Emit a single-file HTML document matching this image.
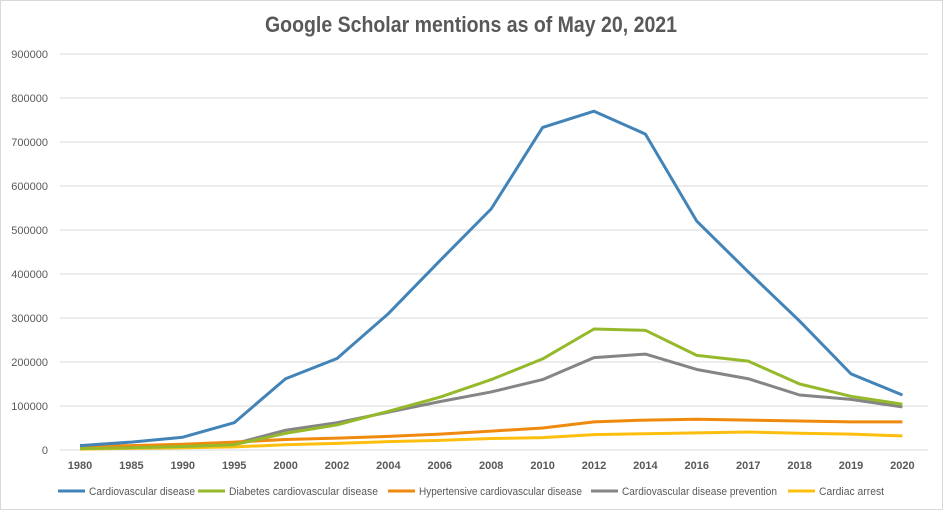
<!DOCTYPE html>
<html><head><meta charset="utf-8"><style>
body{margin:0;background:#fff}
svg{display:block;font-family:"Liberation Sans Narrow","Liberation Sans",sans-serif}
</style></head><body>
<svg id="c" width="943" height="510" xmlns="http://www.w3.org/2000/svg">
<rect x="0.5" y="0.5" width="942" height="509" fill="#fff" stroke="#d9d9d9"/>
<text x="471" y="32" text-anchor="middle" font-size="22" font-weight="bold" fill="#595959" textLength="412" lengthAdjust="spacingAndGlyphs">Google Scholar mentions as of May 20, 2021</text>
<g id="grid"></g><g id="lines"></g><g id="leg"></g>
</svg>
<script>
const ns="http://www.w3.org/2000/svg";
function el(t,a,txt){const e=document.createElementNS(ns,t);for(const k in a)e.setAttribute(k,a[k]);if(txt!=null)e.textContent=txt;return e;}
const g=document.getElementById('grid');
const Y=v=>450-v*396/900000;
for(let i=0;i<=9;i++){const y=Y(i*100000);
g.appendChild(el('line',{x1:60,x2:928,y1:y,y2:y,stroke:'#d9d9d9','stroke-width':1}));
g.appendChild(el('text',{x:48,y:y+4,'text-anchor':'end','font-size':11,fill:'#595959'},String(i*100000)));}
const yrs=[1980,1985,1990,1995,2000,2002,2004,2006,2008,2010,2012,2014,2016,2017,2018,2019,2020];
const X=i=>80+i*51.4;
yrs.forEach((yr,i)=>g.appendChild(el('text',{x:X(i),y:469,'text-anchor':'middle','font-size':11,'font-weight':'bold',fill:'#595959'},yr)));
const S=[
['Cardiovascular disease','#4283b8',[10,18,29,62,162,208,310,430,548,733,770,718,520,405,293,173,125]],
['Diabetes cardiovascular disease','#95b92a',[3,5,8,12,38,57,88,120,160,207,275,272,215,202,150,122,104]],
['Hypertensive cardiovascular disease','#f08a0e',[7,10,13,18,24,27,31,36,43,50,64,68,70,68,66,64,64]],
['Cardiovascular disease prevention','#858585',[5,6,9,14,45,62,86,110,132,160,210,218,183,162,125,115,98]],
['Cardiac arrest','#fdbf0f',[2,4,5,7,12,15,19,22,26,28,35,37,39,41,38,36,32]]];
const L=document.getElementById('lines');
S.slice().reverse().forEach(s=>L.appendChild(el('polyline',{points:s[2].map((v,i)=>X(i)+','+Y(v*1000)).join(' '),fill:'none',stroke:s[1],'stroke-width':3,'stroke-linejoin':'round'})));
const lg=document.getElementById('leg');
const lx=[58,198,388,591,788];const tw=[106,149,163,155,65];
S.forEach((s,i)=>{lg.appendChild(el('line',{x1:lx[i],x2:lx[i]+27,y1:491,y2:491,stroke:s[1],'stroke-width':3}));
lg.appendChild(el('text',{x:lx[i]+31,y:495,'font-size':11,fill:'#595959',textLength:tw[i],lengthAdjust:'spacingAndGlyphs'},s[0]));});
</script>
</body></html>
